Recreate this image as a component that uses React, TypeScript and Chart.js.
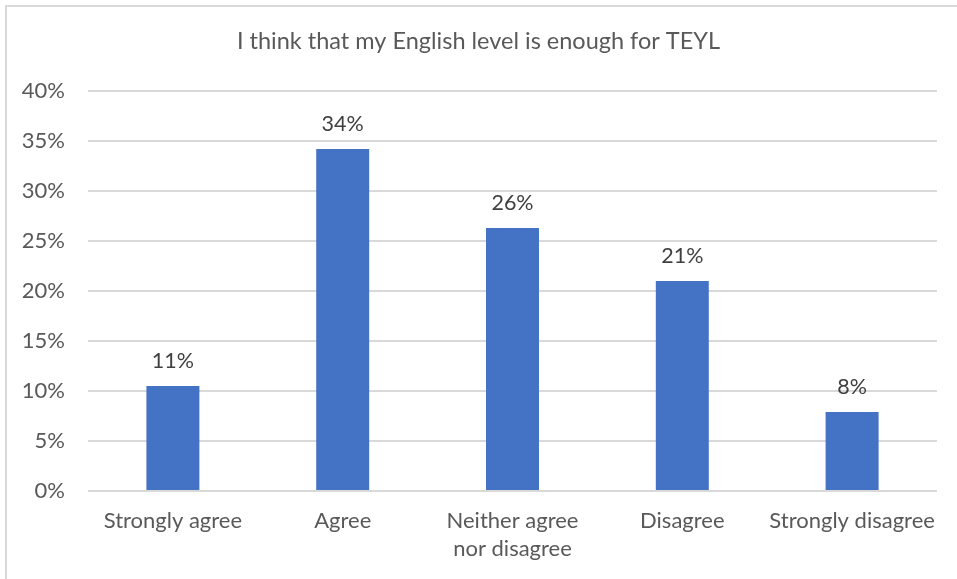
import React, { useEffect, useRef } from "react";
import { Chart, registerables } from "chart.js";

Chart.register(...registerables);

const chartTitle = "I think that my English level is enough for TEYL";
const categories: (string | string[])[] = [
  "Strongly agree",
  "Agree",
  ["Neither agree", "nor disagree"],
  "Disagree",
  "Strongly disagree",
];
const percentages = [10.5, 34.2, 26.3, 21.0, 7.9];
const yTicks = [0, 5, 10, 15, 20, 25, 30, 35, 40];

const FONT = "Lato, 'Open Sans', sans-serif";

const dataLabelPlugin = {
  id: "dataLabels",
  afterDatasetsDraw(chart: any) {
    const ctx = chart.ctx;
    const meta = chart.getDatasetMeta(0);
    ctx.save();
    ctx.fillStyle = "#404040";
    ctx.font = `21.5px ${FONT}`;
    ctx.textAlign = "center";
    ctx.textBaseline = "middle";
    meta.data.forEach((bar: any, i: number) => {
      const v = percentages[i];
      ctx.fillText(Math.round(v) + "%", bar.x, bar.y - 25);
    });
    ctx.restore();
  },
};

export default function App() {
  const canvasRef = useRef<HTMLCanvasElement | null>(null);

  useEffect(() => {
    document.body.style.margin = "0";
    const canvas = canvasRef.current;
    if (!canvas) return;
    const chart = new Chart(canvas, {
      type: "bar",
      data: {
        labels: categories as any,
        datasets: [
          {
            data: percentages,
            backgroundColor: "#4472C4",
            borderWidth: 0,
            categoryPercentage: 1,
            barPercentage: 0.312,
            yAxisID: "y",
          },
        ],
      },
      options: {
        animation: false,
        responsive: false,
        maintainAspectRatio: false,
        layout: { padding: 0 },
        plugins: {
          legend: { display: false },
          tooltip: { enabled: false },
          title: {
            display: true,
            text: chartTitle,
            color: "#595959",
            font: { family: FONT, size: 23.5, weight: "normal", lineHeight: 1.2 },
            padding: { top: 27, bottom: 35.8 },
          },
        },
        scales: {
          x: {
            grid: { display: false, drawTicks: false },
            border: { display: false },
            ticks: {
              color: "#595959",
              font: { family: FONT, size: 22, lineHeight: 1.27 },
              padding: 16,
              maxRotation: 0,
              autoSkip: false,
            },
            afterFit: (scale: any) => {
              scale.height = 88;
            },
          },
          y: {
            min: 0,
            max: 40,
            afterBuildTicks: (scale: any) => {
              scale.ticks = yTicks.map((v) => ({ value: v }));
            },
            grid: { color: "#D9D9D9", lineWidth: 2, drawTicks: false },
            border: { display: false },
            ticks: {
              color: "#595959",
              font: { family: FONT, size: 22 },
              padding: 23,
              callback: (v: any) => v + "%",
            },
            afterFit: (scale: any) => {
              scale.width = 88;
            },
          },
          yRight: {
            position: "right",
            min: 0,
            max: 40,
            grid: { display: false, drawTicks: false },
            border: { display: false },
            ticks: { display: false },
            afterFit: (scale: any) => {
              scale.width = 20;
            },
          },
        },
      },
      plugins: [dataLabelPlugin],
    });
    return () => chart.destroy();
  }, []);

  return (
    <div style={{ position: "absolute", left: 0, top: 0, width: 957, height: 579, overflow: "hidden", background: "#fff" }}>
      <div
        style={{
          position: "absolute",
          left: 5,
          top: 5,
          width: 1000,
          height: 1000,
          borderLeft: "2px solid #D9D9D9",
          borderTop: "2px solid #D9D9D9",
        }}
      />
      <canvas ref={canvasRef} width={957} height={579} style={{ position: "absolute", left: 0, top: 0 }} />
    </div>
  );
}
